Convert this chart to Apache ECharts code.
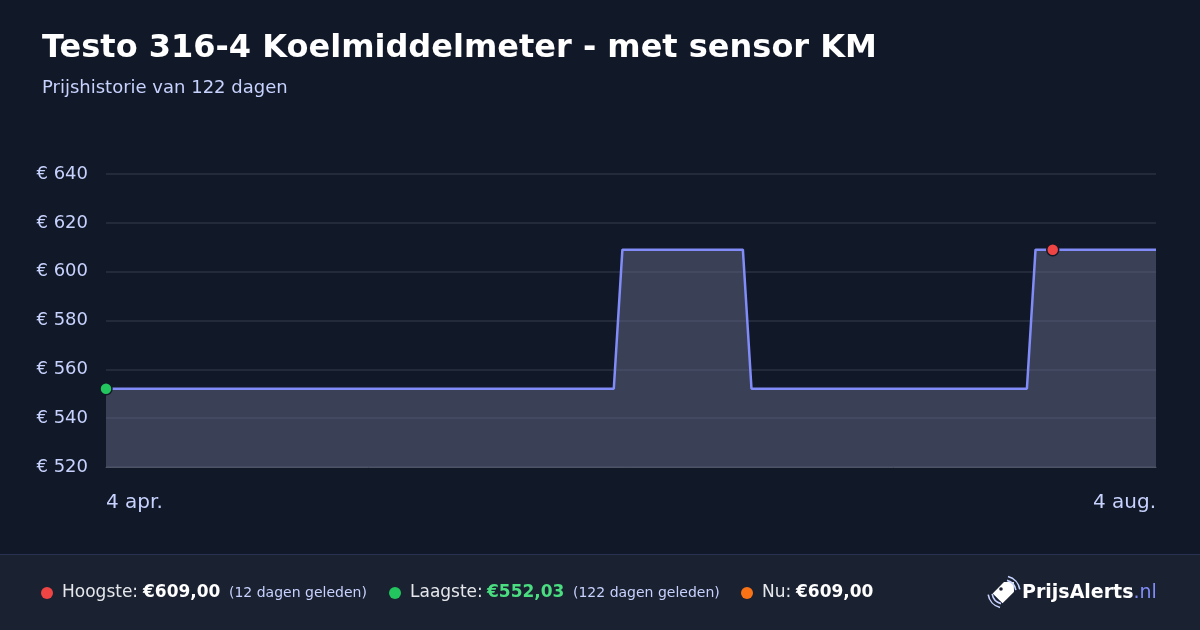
<!DOCTYPE html>
<html><head><meta charset="utf-8">
<script src="https://cdn.jsdelivr.net/npm/echarts@6/dist/echarts.min.js"></script>
<style>html,body{margin:0;padding:0;background:#111827;}#c{width:1200px;height:630px;}</style>
</head><body><div id="c"></div>
<script>
const titleText = 'Testo 316-4 Koelmiddelmeter - met sensor KM';
const subtitleText = 'Prijshistorie van 122 dagen';
const startDate = '2025-04-04';
const monthNames = ['jan.','feb.','mrt.','apr.','mei','jun.','jul.','aug.','sep.','okt.','nov.','dec.'];
const prices = [
552.03,552.03,552.03,552.03,552.03,552.03,552.03,552.03,552.03,552.03,
552.03,552.03,552.03,552.03,552.03,552.03,552.03,552.03,552.03,552.03,
552.03,552.03,552.03,552.03,552.03,552.03,552.03,552.03,552.03,552.03,
552.03,552.03,552.03,552.03,552.03,552.03,552.03,552.03,552.03,552.03,
552.03,552.03,552.03,552.03,552.03,552.03,552.03,552.03,552.03,552.03,
552.03,552.03,552.03,552.03,552.03,552.03,552.03,552.03,552.03,552.03,
609.00,609.00,609.00,609.00,609.00,609.00,609.00,609.00,609.00,609.00,
609.00,609.00,609.00,609.00,609.00,552.03,552.03,552.03,552.03,552.03,
552.03,552.03,552.03,552.03,552.03,552.03,552.03,552.03,552.03,552.03,
552.03,552.03,552.03,552.03,552.03,552.03,552.03,552.03,552.03,552.03,
552.03,552.03,552.03,552.03,552.03,552.03,552.03,552.03,609.00,609.00,
609.00,609.00,609.00,609.00,609.00,609.00,609.00,609.00,609.00,609.00,
609.00,609.00,609.00
];
const highIndex = 110, highValue = 609.00;
const lowIndex = 0, lowValue = 552.03;
const yTicks = [520, 540, 560, 580, 600, 620, 640];
const footerHigh = '€609,00', footerHighAgo = '(12 dagen geleden)';
const footerLow = '€552,03', footerLowAgo = '(122 dagen geleden)';
const footerNow = '€609,00';

const dates = [];
{
  const d0 = new Date(startDate + 'T00:00:00Z');
  for (let i = 0; i < prices.length; i++) {
    const d = new Date(d0.getTime() + i * 86400000);
    dates.push(d.getUTCDate() + ' ' + monthNames[d.getUTCMonth()]);
  }
}
const last = prices.length - 1;
const F = 'DejaVu Sans, sans-serif';
const T = (x, txt, fill, size, weight) => ({type: 'text', x: x, y: 593, style: {
  text: txt, fill: fill, fontSize: size, fontWeight: weight || 'normal', fontFamily: F, verticalAlign: 'middle'}});

const chart = echarts.init(document.getElementById('c'), null, {renderer: 'canvas'});
chart.setOption({
  backgroundColor: '#111827',
  animation: false,
  title: [
    {text: titleText, left: 42, top: 33, padding: 0, textStyle: {color: '#ffffff', fontSize: 32, fontWeight: 'bold', fontFamily: F}},
    {text: subtitleText, left: 42, top: 79, padding: 0, textStyle: {color: '#c7d2fe', fontSize: 18, fontWeight: 'normal', fontFamily: F}}
  ],
  grid: {left: 106, right: 44, top: 174, bottom: 163, containLabel: false},
  xAxis: {
    type: 'category', data: dates, boundaryGap: false,
    axisLine: {show: true, lineStyle: {color: '#4b5563', width: 1}},
    axisTick: {show: false},
    splitLine: {show: false},
    axisLabel: {
      color: '#c7d2fe', fontSize: 20, fontFamily: F, margin: 26,
      interval: (i) => i === 0 || i === last,
      showMinLabel: true, showMaxLabel: true,
      alignMinLabel: 'left', alignMaxLabel: 'right'
    }
  },
  yAxis: {
    type: 'value', min: yTicks[0], max: yTicks[yTicks.length - 1], interval: 20,
    axisLine: {show: false}, axisTick: {show: false},
    splitLine: {lineStyle: {color: '#232b3b', width: 2}},
    axisLabel: {color: '#c7d2fe', fontSize: 18, fontFamily: F, margin: 18, formatter: (v) => '€ ' + v}
  },
  series: [
    {
      type: 'line', data: prices, showSymbol: false, symbol: 'none',
      lineStyle: {color: '#818cf8', width: 2.5},
      areaStyle: {color: 'rgba(99,104,133,0.5)', opacity: 1},
      z: 2
    },
    {
      type: 'scatter', symbolSize: 12, z: 5,
      data: [
        {value: [lowIndex, lowValue], itemStyle: {color: '#22c55e', borderColor: '#111827', borderWidth: 1.5, opacity: 1}},
        {value: [highIndex, highValue], itemStyle: {color: '#ef4444', borderColor: '#111827', borderWidth: 1.5, opacity: 1}}
      ]
    }
  ],
  graphic: [
    {type: 'rect', shape: {x: 0, y: 554, width: 1200, height: 76}, style: {fill: '#1a2131'}, z: 0},
    {type: 'rect', shape: {x: 0, y: 554, width: 1200, height: 1}, style: {fill: '#283152'}, z: 1},
    {type: 'circle', shape: {cx: 47, cy: 593, r: 6}, style: {fill: '#ef4444'}},
    T(62, 'Hoogste:', '#e5e7eb', 17),
    T(143, footerHigh, '#ffffff', 17, 'bold'),
    T(229, footerHighAgo, '#c7d2fe', 14),
    {type: 'circle', shape: {cx: 395, cy: 593, r: 6}, style: {fill: '#22c55e'}},
    T(410, 'Laagste:', '#e5e7eb', 17),
    T(487, footerLow, '#4ade80', 17, 'bold'),
    T(573, footerLowAgo, '#c7d2fe', 14),
    {type: 'circle', shape: {cx: 747, cy: 593, r: 6}, style: {fill: '#f97316'}},
    T(762, 'Nu:', '#e5e7eb', 17),
    T(796, footerNow, '#ffffff', 17, 'bold'),
    // logo icon: tag with signal arcs
    {type: 'group', x: 1004, y: 592, children: [
      {type: 'polygon', rotation: -Math.PI / 4,
       shape: {points: [[-5,-9],[5,-9],[7,-7],[7,9],[-7,9],[-7,-7]]}, style: {fill: '#ffffff'}},
      {type: 'polygon', rotation: -Math.PI / 4,
       shape: {points: [[-7,-7],[0,-14],[7,-7]]}, style: {fill: '#ffffff'}},
      {type: 'circle', shape: {cx: -3, cy: -3, r: 1.8}, style: {fill: '#1a2131'}},
      {type: 'arc', shape: {cx: 0, cy: 0, r: 12, startAngle: -Math.PI*0.42, endAngle: -Math.PI*0.05}, style: {stroke: '#c7d2fe', lineWidth: 1.6, fill: null}},
      {type: 'arc', shape: {cx: 0, cy: 0, r: 16, startAngle: -Math.PI*0.42, endAngle: -Math.PI*0.05}, style: {stroke: '#c7d2fe', lineWidth: 1.6, fill: null}},
      {type: 'arc', shape: {cx: 0, cy: 0, r: 12, startAngle: Math.PI*0.58, endAngle: Math.PI*0.95}, style: {stroke: '#c7d2fe', lineWidth: 1.6, fill: null}},
      {type: 'arc', shape: {cx: 0, cy: 0, r: 16, startAngle: Math.PI*0.58, endAngle: Math.PI*0.95}, style: {stroke: '#c7d2fe', lineWidth: 1.6, fill: null}}
    ]},
    {type: 'text', x: 1022, y: 593, style: {
      text: '{b|PrijsAlerts}{n|.nl}', verticalAlign: 'middle', fontFamily: F,
      rich: {
        b: {fill: '#ffffff', fontSize: 19, fontWeight: 'bold', fontFamily: F},
        n: {fill: '#818cf8', fontSize: 19, fontFamily: F}
      }}}
  ]
});
</script>
</body></html>
